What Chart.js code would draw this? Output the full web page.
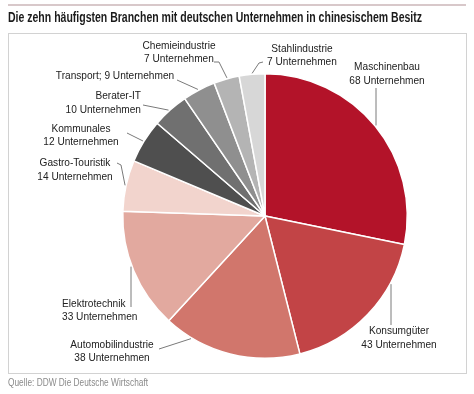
<!DOCTYPE html>
<html>
<head>
<meta charset="utf-8">
<script src="https://cdn.jsdelivr.net/npm/chart.js@4.4.1/dist/chart.umd.min.js"></script>
<style>
  html, body { margin: 0; padding: 0; background: #fff; }
  #wrap { position: relative; width: 474px; height: 394px; }
  #topline { position: absolute; left: 8px; top: 4px; width: 458px; height: 2px; background: #d8c8ca; }
  #box { position: absolute; left: 8px; top: 33px; width: 457px; height: 339px; border: 1px solid #d2d2d2; }
  canvas { position: absolute; left: 0; top: 0; }
</style>
</head>
<body>
<div id="wrap">
  <div id="topline"></div>
  <div id="box"></div>
  <canvas id="pieChart" width="474" height="394"></canvas>
</div>
<script>
const categories = ["Maschinenbau", "Konsumgüter", "Automobilindustrie", "Elektrotechnik", "Gastro-Touristik",
  "Kommunales", "Berater-IT", "Transport", "Chemieindustrie", "Stahlindustrie"];
const companies = [68, 43, 38, 33, 14, 12, 10, 9, 7, 7];
const sliceColors = ["#b31329", "#c24446", "#d1766c", "#e2a99f", "#f2d4cd",
  "#4f4f4f", "#707070", "#8f8f8f", "#b4b4b4", "#d7d7d7"];

const titleText = "Die zehn häufigsten Branchen mit deutschen Unternehmen in chinesischem Besitz";
const sourceText = "Quelle: DDW Die Deutsche Wirtschaft";

// label layout: anchor x, line y's, alignment, leader start (+ optional short tick) and direction
const labelLayout = [
  { x: 387, y: [67, 81], align: "center", from: [376, 88], dir: [0, 1] },
  { x: 399, y: [331, 345], align: "center", from: [391, 325], dir: [0, -1] },
  { x: 112, y: [345, 358], align: "center", from: [159, 349], dir: [34, -11] },
  { x: 62, y: [304, 317], align: "left", from: [131, 307], dir: [0, -1] },
  { x: 75, y: [163, 177], align: "center", tick: [117, 163], from: [121, 165], dir: [0.2, 1] },
  { x: 81, y: [129, 142], align: "center", from: [127, 133], dir: [16, 8] },
  { x: 141, y: [96, 110], align: "right", from: [143, 105], dir: [25, 5] },
  { x: 115, y: [76], align: "center", from: [177, 80], dir: [20, 9] },
  { x: 179, y: [46, 59], align: "center", tick: [214, 62], from: [219, 62], dir: [8, 16] },
  { x: 302, y: [49, 62], align: "center", tick: [263, 62], from: [259, 63], dir: [-8, 12] }
];

function labelLines(i) {
  const n = companies[i] + " Unternehmen";
  if (categories[i] === "Transport") return [categories[i] + "; " + n];
  return [categories[i], n];
}

function fitText(ctx, text, x, y, width, align) {
  // draws text squeezed to a given width
  const w = ctx.measureText(text).width;
  ctx.save();
  ctx.translate(x, y);
  ctx.scale(width / w, 1);
  ctx.textAlign = align;
  ctx.fillText(text, 0, 0);
  ctx.restore();
}

const labelPlugin = {
  id: "labels",
  afterDraw(chart) {
    const ctx = chart.ctx;
    const arcs = chart.getDatasetMeta(0).data;
    const cx = arcs[0].x, cy = arcs[0].y, r = arcs[0].outerRadius;

    ctx.save();
    // title + source
    ctx.fillStyle = "#1b1b1b";
    ctx.font = "bold 14px 'Liberation Sans', Arial, sans-serif";
    ctx.textBaseline = "middle";
    fitText(ctx, titleText, 8, 18, 414, "left");
    ctx.fillStyle = "#8a8a8a";
    ctx.font = "10px 'Liberation Sans', Arial, sans-serif";
    fitText(ctx, sourceText, 8, 383, 140, "left");

    // labels and leader lines
    ctx.font = "11px 'Liberation Sans', Arial, sans-serif";
    labelLayout.forEach((L, i) => {
      ctx.fillStyle = "#222";
      labelLines(i).forEach((t, k) => {
        ctx.save();
        ctx.translate(L.x, L.y[k]);
        ctx.scale(0.92, 1);
        ctx.textAlign = L.align;
        ctx.fillText(t, 0, 0);
        ctx.restore();
      });
      // ray from label toward the pie edge
      const len = Math.hypot(L.dir[0], L.dir[1]);
      const dx = L.dir[0] / len, dy = L.dir[1] / len;
      const px = L.from[0] - cx, py = L.from[1] - cy;
      const b = px * dx + py * dy;
      const c = px * px + py * py - (r + 1) * (r + 1);
      const disc = b * b - c;
      let t = disc > 0 ? -b - Math.sqrt(disc) : 0;
      if (t < 0) t = 0;
      ctx.strokeStyle = "#7a7a7a";
      ctx.lineWidth = 1;
      ctx.beginPath();
      if (L.tick) {
        ctx.moveTo(L.tick[0], L.tick[1]);
        ctx.lineTo(L.from[0], L.from[1]);
      } else {
        ctx.moveTo(L.from[0], L.from[1]);
      }
      ctx.lineTo(L.from[0] + dx * t, L.from[1] + dy * t);
      ctx.stroke();
    });
    ctx.restore();
  }
};

new Chart("pieChart", {
  type: "pie",
  data: {
    labels: categories,
    datasets: [{
      data: companies,
      backgroundColor: sliceColors,
      borderColor: "#ffffff",
      borderWidth: 1.5,
      hoverOffset: 0
    }]
  },
  options: {
    responsive: false,
    animation: false,
    layout: { padding: { left: 122, right: 66, top: 73, bottom: 35 } },
    plugins: {
      legend: { display: false },
      tooltip: { enabled: false }
    }
  },
  plugins: [labelPlugin]
});
</script>
</body>
</html>
